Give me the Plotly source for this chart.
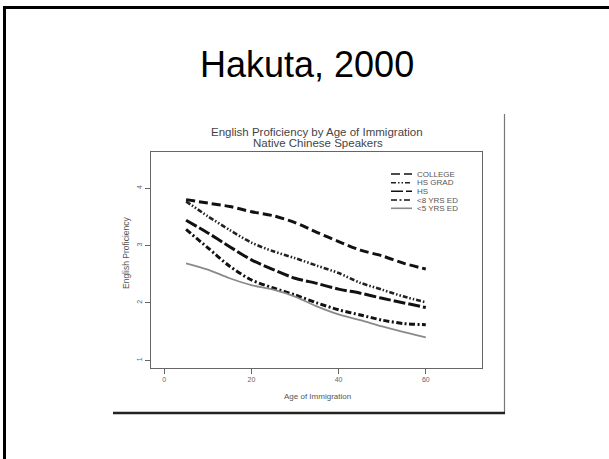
import plotly.graph_objects as go

# Age of immigration at which each curve is sampled
age = [5, 10, 15, 20, 25, 30, 35, 40, 45, 50, 55, 60]

# Smoothed English proficiency by education group
college = [3.80, 3.74, 3.68, 3.59, 3.52, 3.40, 3.23, 3.07, 2.92, 2.82, 2.69, 2.59]
hs_grad = [3.77, 3.51, 3.27, 3.05, 2.90, 2.78, 2.65, 2.52, 2.35, 2.23, 2.11, 2.01]
hs = [3.44, 3.22, 2.98, 2.75, 2.58, 2.43, 2.34, 2.24, 2.17, 2.08, 2.00, 1.92]
lt8_ed = [3.28, 2.96, 2.64, 2.40, 2.26, 2.14, 2.00, 1.88, 1.79, 1.70, 1.64, 1.62]
lt5_ed = [2.69, 2.58, 2.43, 2.31, 2.23, 2.11, 1.94, 1.80, 1.70, 1.59, 1.49, 1.40]

series_names = ["COLLEGE", "HS GRAD", "HS", "<8 YRS ED", "<5 YRS ED"]
series_values = [college, hs_grad, hs, lt8_ed, lt5_ed]
series_styles = [
    dict(color="#111111", width=3, dash="9px,4px"),
    dict(color="#222222", width=2.6, dash="5px,2px,1.5px,2px,1.5px,2px"),
    dict(color="#111111", width=3, dash="12px,3px"),
    dict(color="#111111", width=3, dash="6px,2.5px,2px,2.5px"),
    dict(color="#8a8a8a", width=1.8, dash="solid"),
]

x_ticks = [0, 20, 40, 60]
y_ticks = [1, 2, 3, 4]

W, H = 609, 459
L, R, T, B = 151, 482, 152, 368  # plot box in page pixels


def px(x):
    return (x - L) / (R - L)


def py(y):
    return (B - y) / (B - T)


fig = go.Figure()
for name, vals, style in zip(series_names, series_values, series_styles):
    fig.add_trace(go.Scatter(x=age, y=vals, mode="lines", name=name,
                             line=dict(shape="spline", smoothing=0.8, **style),
                             showlegend=False))

shapes = []
annotations = []

# slide frame
shapes.append(dict(type="line", xref="paper", yref="paper",
                   x0=px(4.5), x1=px(4.5), y0=py(6), y1=py(470),
                   line=dict(color="#000000", width=3)))
shapes.append(dict(type="line", xref="paper", yref="paper",
                   x0=px(3), x1=px(620), y0=py(7.5), y1=py(7.5),
                   line=dict(color="#000000", width=3)))

# inset figure frame
shapes.append(dict(type="line", xref="paper", yref="paper",
                   x0=px(504.5), x1=px(504.5), y0=py(114), y1=py(413),
                   line=dict(color="#777777", width=1.2)))
shapes.append(dict(type="line", xref="paper", yref="paper",
                   x0=px(113), x1=px(505), y0=py(413), y1=py(413),
                   line=dict(color="#222222", width=2.5)))

# legend keys
leg_rows = [174, 182.7, 191.3, 200, 208.3]
for name, style, yrow in zip(series_names, series_styles, leg_rows):
    st = dict(style)
    st["width"] = min(st["width"], 1.6)
    shapes.append(dict(type="line", xref="paper", yref="paper",
                       x0=px(391), x1=px(412), y0=py(yrow), y1=py(yrow),
                       line=st))
    annotations.append(dict(x=px(415), y=py(yrow), xref="paper", yref="paper",
                            text=name, showarrow=False, xanchor="left", yanchor="middle",
                            font=dict(family="Liberation Sans, Arial", size=8, color="#555555")))

# slide heading
annotations.append(dict(x=px(307), y=py(64), xref="paper", yref="paper",
                        text="Hakuta, 2000", showarrow=False,
                        xanchor="center", yanchor="middle",
                        font=dict(family="Liberation Sans, Arial", size=36, color="#000000")))

# chart titles
annotations.append(dict(x=px(317), y=py(132), xref="paper", yref="paper",
                        text="English Proficiency by Age of Immigration", showarrow=False,
                        xanchor="center", yanchor="middle",
                        font=dict(family="Liberation Sans, Arial", size=11.5, color="#444444")))
annotations.append(dict(x=px(318), y=py(143), xref="paper", yref="paper",
                        text="Native Chinese Speakers", showarrow=False,
                        xanchor="center", yanchor="middle",
                        font=dict(family="Liberation Sans, Arial", size=11.5, color="#444444")))

# axis labels
annotations.append(dict(x=px(317), y=py(396), xref="paper", yref="paper",
                        text="Age of Immigration", showarrow=False,
                        xanchor="center", yanchor="middle",
                        font=dict(family="Liberation Sans, Arial", size=8, color="#555555")))
annotations.append(dict(x=px(126), y=py(253), xref="paper", yref="paper",
                        text="English Proficiency", showarrow=False, textangle=-90,
                        xanchor="center", yanchor="middle",
                        font=dict(family="Liberation Sans, Arial", size=8.5, color="#555555")))

fig.update_layout(
    width=W, height=H,
    margin=dict(l=L, r=W - R, t=T, b=H - B),
    paper_bgcolor="white", plot_bgcolor="white",
    shapes=shapes, annotations=annotations,
    showlegend=False,
)
fig.update_xaxes(range=[-3.05, 72.9], tickvals=x_ticks, ticktext=[str(v) for v in x_ticks],
                 showgrid=False, zeroline=False, showline=True, mirror=True,
                 linecolor="#666666", linewidth=1, ticks="outside", ticklen=5,
                 tickcolor="#666666", tickwidth=1,
                 tickfont=dict(family="Liberation Sans, Arial", size=7, color="#666666"))
fig.update_yaxes(range=[0.866, 4.63], tickvals=y_ticks, ticktext=[str(v) for v in y_ticks],
                 showgrid=False, zeroline=False, showline=True, mirror=True,
                 linecolor="#666666", linewidth=1, ticks="outside", ticklen=5,
                 tickcolor="#666666", tickwidth=1, tickangle=-90,
                 tickfont=dict(family="Liberation Sans, Arial", size=7, color="#666666"))

fig.write_html("out.html")
